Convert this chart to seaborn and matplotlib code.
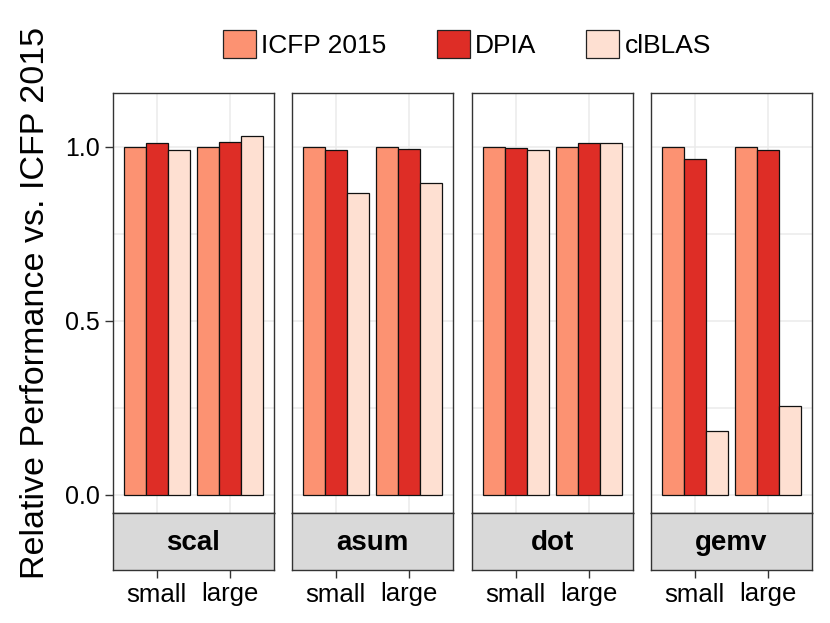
import numpy as np
import pandas as pd
import matplotlib
matplotlib.use('Agg')
import matplotlib.pyplot as plt
import seaborn as sns
from matplotlib.patches import Patch

# values
kernels = ['scal', 'asum', 'dot', 'gemv']
sizes = ['small', 'large']
impls = ['ICFP 2015', 'DPIA', 'clBLAS']
icfp = [[1.0, 1.0], [1.0, 1.0], [1.0, 1.0], [1.0, 1.0]]
dpia = [[1.012, 1.014], [0.990, 0.993], [0.997, 1.010], [0.965, 0.990]]
clblas = [[0.990, 1.031], [0.869, 0.895], [0.992, 1.011], [0.184, 0.256]]
colors = ['#FC9272', '#DE2D26', '#FEE0D2']

rows = []
for k, kern in enumerate(kernels):
    for s, size in enumerate(sizes):
        for impl, vals in zip(impls, [icfp, dpia, clblas]):
            rows.append({'kernel': kern, 'size': size, 'impl': impl, 'perf': vals[k][s]})
df = pd.DataFrame(rows)

sns.set_style('white')
plt.rcParams['font.family'] = ['Liberation Sans', 'DejaVu Sans']
plt.rcParams['text.color'] = 'black'
plt.rcParams['axes.labelcolor'] = 'black'
plt.rcParams['xtick.color'] = 'black'
plt.rcParams['ytick.color'] = 'black'

fig = plt.figure(figsize=(8.3, 6.23), dpi=100)
W, H = 830, 623
panel_left = [113, 292, 472, 651]
pw = 161
top, bottom, strip_bot = 93, 513, 570

for i, kern in enumerate(kernels):
    x0 = panel_left[i] / W
    ax = fig.add_axes([x0, 1 - bottom / H, pw / W, (bottom - top) / H])
    sax = fig.add_axes([x0, 1 - strip_bot / H, pw / W, (strip_bot - bottom) / H], sharex=ax)
    sub = df[df.kernel == kern]
    sns.barplot(data=sub, x='size', y='perf', hue='impl', order=sizes, hue_order=impls,
                palette=colors, saturation=1, edgecolor='#111111', linewidth=0.9, width=0.9,
                ax=ax, legend=False, zorder=3)
    ax.set_ylim(-0.052, 1.155)
    ax.set_xlim(-0.6, 1.6)
    ax.set_yticks([0.0, 0.5, 1.0])
    ax.set_yticks([0.25, 0.75], minor=True)
    ax.grid(True, which='both', color='#EBEBEB', linewidth=1.1, zorder=0)
    ax.set_axisbelow(True)
    ax.set_xlabel('')
    ax.set_ylabel('')
    ax.tick_params(axis='x', bottom=False, labelbottom=False)
    for sp in ax.spines.values():
        sp.set_color('#333333')
        sp.set_linewidth(1.0)
    if i == 0:
        ax.set_yticklabels(['0.0', '0.5', '1.0'])
        ax.tick_params(axis='y', which='major', left=True, length=5.5, width=1,
                       color='#333333', labelsize=18, pad=4)
        ax.tick_params(axis='y', which='minor', left=False)
        ax.set_ylabel('Relative Performance vs. ICFP 2015', fontsize=24.5, labelpad=10)
    else:
        ax.tick_params(axis='y', which='both', left=False, labelleft=False)

    # facet strip under the panel
    sax.set_facecolor('#D9D9D9')
    sax.set_yticks([])
    sax.tick_params(axis='x', bottom=True, labelbottom=True, length=6, width=1,
                    color='#333333', labelsize=18.5, pad=3)
    sax.set_xticks([0, 1])
    sax.set_xticklabels(sizes)
    for sp in sax.spines.values():
        sp.set_color('#333333')
        sp.set_linewidth(1.0)
    sax.text(0.5, 0.48, kern, transform=sax.transAxes, ha='center', va='center',
             fontsize=20, fontweight='bold')

handles = [Patch(facecolor=c, edgecolor='#222222', linewidth=0.9) for c in colors]
fig.legend(handles, impls, loc='center', bbox_to_anchor=(467 / W, 1 - 44 / H), ncol=3,
           frameon=False, fontsize=19, handlelength=1.25, handleheight=1.25,
           handletextpad=0.2, columnspacing=1.9)

fig.savefig('out.png', dpi=100)
